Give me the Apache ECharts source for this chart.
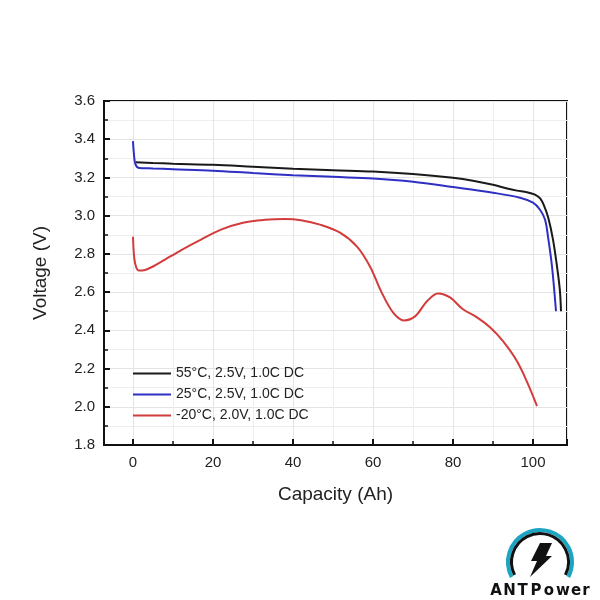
<!DOCTYPE html>
<html>
<head>
<meta charset="utf-8">
<script src="https://cdn.jsdelivr.net/npm/echarts@6/dist/echarts.min.js"></script>
<style>
    html, body { margin: 0; padding: 0; background: #fff; }
    #chart { width: 600px; height: 600px; }
</style>
</head>
<body>
<div id="chart"></div>
<script>
// 55°C 曲线
const cap55 = [0.7, 5, 10, 20, 30, 40, 50, 60, 70, 80, 85, 90, 93.5, 96, 98.5, 100.5, 101.8, 102.8, 103.8, 105, 106, 106.7, 107];
const volt55 = [3.28, 3.276, 3.272, 3.266, 3.256, 3.246, 3.238, 3.231, 3.218, 3.198, 3.183, 3.162, 3.142, 3.131, 3.123, 3.11, 3.09, 3.05, 2.99, 2.875, 2.734, 2.614, 2.50];
// 25°C 曲线
const cap25 = [0, 0.2, 0.6, 1.5, 5, 10, 20, 30, 40, 50, 60, 70, 80, 90, 96.75, 100, 101.75, 103, 103.75, 104.75, 105.75];
const volt25 = [3.39, 3.33, 3.27, 3.25, 3.247, 3.243, 3.235, 3.223, 3.212, 3.203, 3.195, 3.178, 3.15, 3.12, 3.094, 3.068, 3.031, 2.98, 2.89, 2.734, 2.50];
// -20°C 曲线
const capM20 = [0, 0.3, 0.8, 1.5, 3, 5, 8, 11, 14, 17, 22, 27.5, 33, 38, 42, 46.75, 51.75, 56, 59.25, 62, 65, 67.75, 70.5, 73.5, 76.25, 79.25, 82.5, 86, 89.25, 92.5, 96, 98.75, 101];
const voltM20 = [2.89, 2.78, 2.73, 2.713, 2.716, 2.734, 2.77, 2.807, 2.842, 2.875, 2.927, 2.963, 2.978, 2.982, 2.976, 2.953, 2.911, 2.838, 2.734, 2.605, 2.494, 2.452, 2.473, 2.552, 2.593, 2.572, 2.51, 2.468, 2.416, 2.343, 2.238, 2.119, 2.004];

const seriesNames = ["55°C, 2.5V, 1.0C DC", "25°C, 2.5V, 1.0C DC", "-20°C, 2.0V, 1.0C DC"];
const seriesColors = ["#1a1a1a", "#2f2fc4", "#d23c3c"];

function pairs(xs, ys) {
    return xs.map((x, i) => [x, ys[i]]);
}

let chart = echarts.init(document.getElementById("chart"));
let font = "Liberation Sans, Arial, sans-serif";

// logo 文字, 逐个字母排开
let logoX = [496, 509.5, 522.5, 536, 549, 563, 576, 586];
let logoLetters = "ANTPower".split("").map((ch, i) => ({
    type: "text",
    x: logoX[i],
    y: 591,
    style: {
        text: ch,
        font: "bold 15px DejaVu Sans, sans-serif",
        fill: "#111",
        align: "center",
        verticalAlign: "middle",
    },
}));

let option = {
    backgroundColor: "#fff",
    animation: false,
    grid: {
        left: 104,
        top: 101,
        right: 33,
        bottom: 155,
        show: true,
        borderColor: "#111",
        borderWidth: 2,
    },
    legend: {
        orient: "vertical",
        left: 133,
        top: 366,
        padding: 0,
        icon: "rect",
        itemWidth: 38,
        itemHeight: 2,
        itemGap: 6,
        textStyle: {
            fontFamily: font,
            fontSize: 14,
            lineHeight: 15,
            color: "#222",
        },
        data: seriesNames,
    },
    xAxis: {
        type: "value",
        min: -7.25,
        max: 108.5,
        splitNumber: 6,
        name: "Capacity (Ah)",
        nameLocation: "middle",
        nameGap: 40,
        nameTextStyle: {
            fontFamily: font,
            fontSize: 19,
            color: "#222",
        },
        axisLine: { onZero: false, lineStyle: { color: "#111", width: 2 } },
        axisTick: { inside: true, length: 6, lineStyle: { color: "#111", width: 2 } },
        minorTick: { show: true, splitNumber: 2, length: 4, lineStyle: { color: "#111", width: 1.5 } },
        axisLabel: {
            showMinLabel: false,
            showMaxLabel: false,
            margin: 10,
            fontFamily: font,
            fontSize: 15,
            color: "#222",
        },
        splitLine: { show: true, lineStyle: { color: "#e4e4e4", width: 1 } },
        minorSplitLine: { show: true, lineStyle: { color: "#eeeeee", width: 1 } },
    },
    yAxis: {
        type: "value",
        min: 1.8,
        max: 3.6,
        interval: 0.2,
        name: "Voltage (V)",
        nameLocation: "middle",
        nameGap: 54,
        nameTextStyle: {
            fontFamily: font,
            fontSize: 19,
            color: "#222",
        },
        axisLine: { show: true, onZero: false, lineStyle: { color: "#111", width: 2 } },
        axisTick: { inside: true, length: 6, lineStyle: { color: "#111", width: 2 } },
        minorTick: { show: true, splitNumber: 2, length: 4, lineStyle: { color: "#111", width: 1.5 } },
        axisLabel: {
            margin: 9,
            fontFamily: font,
            fontSize: 15,
            color: "#222",
            formatter: (v) => v.toFixed(1),
        },
        splitLine: { show: true, lineStyle: { color: "#e4e4e4", width: 1 } },
        minorSplitLine: { show: true, lineStyle: { color: "#eeeeee", width: 1 } },
    },
    series: [
        { name: seriesNames[0], data: pairs(cap55, volt55) },
        { name: seriesNames[1], data: pairs(cap25, volt25) },
        { name: seriesNames[2], data: pairs(capM20, voltM20) },
    ].map((s, i) => ({
        type: "line",
        name: s.name,
        data: s.data,
        smooth: 0.35,
        symbol: "none",
        color: seriesColors[i],
        lineStyle: { color: seriesColors[i], width: 2 },
    })),
    // 右下角 logo
    graphic: [
        {
            type: "arc",
            shape: { cx: 540, cy: 562, r: 32, startAngle: Math.PI * 0.845, endAngle: Math.PI * 2.155 },
            style: { stroke: "#1ba5c2", lineWidth: 4, fill: null },
        },
        {
            type: "arc",
            shape: { cx: 540, cy: 562, r: 28.5, startAngle: Math.PI * 0.85, endAngle: Math.PI * 2.15 },
            style: { stroke: "#111", lineWidth: 3, fill: null },
        },
        {
            type: "polygon",
            shape: {
                points: [[540, 543], [552, 543], [546, 556], [552, 556], [530, 577], [537, 561], [531, 561]],
            },
            style: { fill: "#111" },
        },
    ].concat(logoLetters),
};
chart.setOption(option);
</script>
</body>
</html>
